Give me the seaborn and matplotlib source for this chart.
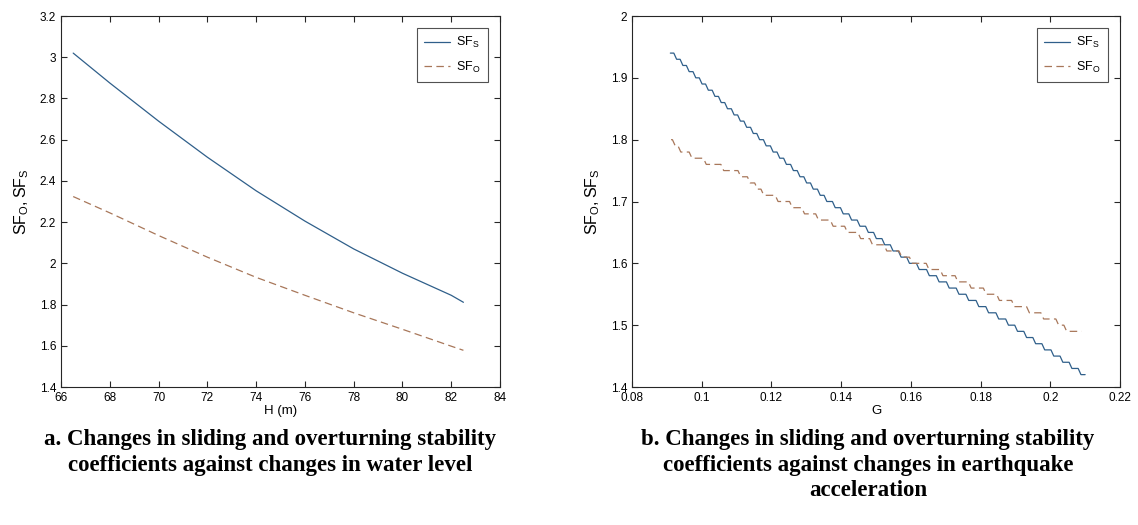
import numpy as np
import pandas as pd
import matplotlib
matplotlib.use("Agg")
import matplotlib.pyplot as plt
import seaborn as sns
from matplotlib.ticker import FuncFormatter

# ---- Data: panel a (water level) ----
h_level = [66.5, 68, 70, 72, 74, 76, 78, 80, 82, 82.5]
sf_s_h = [3.02, 2.875, 2.69, 2.515, 2.352, 2.205, 2.07, 1.952, 1.845, 1.811]
sf_o_h = [2.324, 2.245, 2.135, 2.03, 1.932, 1.845, 1.76, 1.68, 1.598, 1.578]

# ---- Data: panel b (earthquake acceleration), start of each 0.01 level ----
g_s = [0.0910, 0.0928, 0.0946, 0.0964, 0.0983, 0.1001, 0.1019, 0.1038, 0.1056, 0.1074,
       0.1093, 0.1111, 0.1129, 0.1148, 0.1166, 0.1185, 0.1205, 0.1224, 0.1243, 0.1263,
       0.1282, 0.1301, 0.1320, 0.1340, 0.1359, 0.1383, 0.1406, 0.1430, 0.1454, 0.1478,
       0.1501, 0.1525, 0.1549, 0.1572, 0.1596, 0.1624, 0.1653, 0.1681, 0.1710, 0.1738,
       0.1766, 0.1795, 0.1823, 0.1852, 0.1880, 0.1906, 0.1932, 0.1958, 0.1984, 0.2010,
       0.2036, 0.2062, 0.2088, 0.2100]
sf_s_g = [1.94, 1.93, 1.92, 1.91, 1.90, 1.89, 1.88, 1.87, 1.86, 1.85,
          1.84, 1.83, 1.82, 1.81, 1.80, 1.79, 1.78, 1.77, 1.76, 1.75,
          1.74, 1.73, 1.72, 1.71, 1.70, 1.69, 1.68, 1.67, 1.66, 1.65,
          1.64, 1.63, 1.62, 1.61, 1.60, 1.59, 1.58, 1.57, 1.56, 1.55,
          1.54, 1.53, 1.52, 1.51, 1.50, 1.49, 1.48, 1.47, 1.46, 1.45,
          1.44, 1.43, 1.42, 1.42]
g_o = [0.0912, 0.0924, 0.0940, 0.0972, 0.1013, 0.1063, 0.1112, 0.1139, 0.1160, 0.1178,
       0.1219, 0.1260, 0.1295, 0.1335, 0.1377, 0.1418, 0.1456, 0.1490, 0.1531, 0.1574,
       0.1604, 0.1652, 0.1692, 0.1735, 0.1773, 0.1816, 0.1854, 0.1897, 0.1940, 0.1981,
       0.2024, 0.2047, 0.2090]
sf_o_g = [1.80, 1.79, 1.78, 1.77, 1.76, 1.75, 1.74, 1.73, 1.72, 1.71,
          1.70, 1.69, 1.68, 1.67, 1.66, 1.65, 1.64, 1.63, 1.62, 1.61,
          1.60, 1.59, 1.58, 1.57, 1.56, 1.55, 1.54, 1.53, 1.52, 1.51,
          1.50, 1.49, 1.49]

caption_a = ["a. Changes in sliding and overturning stability",
             "coefficients against changes in water level"]
caption_b = ["b. Changes in sliding and overturning stability",
             "coefficients against changes in earthquake",
             "acceleration"]


def staircase(xs, ys, drop=0.0008):
    """Flat run for each rounded level, short sloped drop to the next one."""
    px, py = [], []
    for i in range(len(xs) - 1):
        px.append(xs[i]); py.append(ys[i])
        end = max(xs[i], xs[i + 1] - drop)
        px.append(end); py.append(ys[i])
    px.append(xs[-1]); py.append(ys[-1])
    return pd.DataFrame({'x': px, 'y': py})


sns.set_theme(style="ticks")
plt.rcParams['font.family'] = ['Liberation Sans', 'DejaVu Sans']
plt.rcParams['mathtext.fontset'] = 'custom'
plt.rcParams['mathtext.rm'] = 'Liberation Sans'
plt.rcParams['text.color'] = 'black'
plt.rcParams['axes.labelcolor'] = 'black'

C_S = '#2f5f8a'
C_O = '#a8775a'
W, H = 1138, 525

fig = plt.figure(figsize=(11.38, 5.25), dpi=100)
ax1 = fig.add_axes([61/W, 1-387/H, (500-61)/W, (387-16)/H])
ax2 = fig.add_axes([632/W, 1-387/H, (1120-632)/W, (387-16)/H])

lab_s = r'$\mathregular{SF_S}$'
lab_o = r'$\mathregular{SF_O}$'
dash = (0, (6, 3.5))

sns.lineplot(x=h_level, y=sf_s_h, ax=ax1, color=C_S, linewidth=0.9, label=lab_s)
sns.lineplot(x=h_level, y=sf_o_h, ax=ax1, color=C_O, linewidth=0.9, linestyle=dash, label=lab_o)

st_s = staircase(g_s, sf_s_g)
st_o = staircase(g_o, sf_o_g)
sns.lineplot(data=st_s, x='x', y='y', ax=ax2, color=C_S, linewidth=0.9, label=lab_s,
             sort=False, estimator=None)
sns.lineplot(data=st_o, x='x', y='y', ax=ax2, color=C_O, linewidth=0.9, linestyle=dash,
             label=lab_o, sort=False, estimator=None)

ax1.set_xlim(66, 84)
ax1.set_ylim(1.4, 3.2)
ax1.set_xticks(np.arange(66, 85, 2))
ax1.set_yticks(np.arange(1.4, 3.21, 0.2))
ax2.set_xlim(0.08, 0.22)
ax2.set_ylim(1.4, 2.0)
ax2.set_xticks(np.arange(0.08, 0.221, 0.02))
ax2.set_yticks(np.arange(1.4, 2.01, 0.1))

fmt = FuncFormatter(lambda v, p: ('%.2f' % v).rstrip('0').rstrip('.'))
for ax, xl in ((ax1, 'H (m)'), (ax2, 'G')):
    ax.xaxis.set_major_formatter(fmt)
    ax.yaxis.set_major_formatter(fmt)
    ax.tick_params(direction='in', length=4, width=0.8, labelsize=8.5, colors='#262626',
                   labelcolor='black', top=True, right=True, pad=3.5)
    for sp in ax.spines.values():
        sp.set_visible(True)
        sp.set_color('#262626')
        sp.set_linewidth(0.8)
    ax.set_xlabel(xl, fontsize=9.5, labelpad=1, color='black')
    ax.set_ylabel(r'$\mathregular{SF_O, SF_S}$', fontsize=11.5, labelpad=6, color='black')
    leg = ax.legend(loc='upper right', fontsize=9, frameon=True, fancybox=False,
                    edgecolor='#262626', handlelength=2.1, handletextpad=0.5,
                    borderpad=0.55, labelspacing=0.75, borderaxespad=1.0)
    leg.get_frame().set_linewidth(0.8)
    for t in leg.get_texts():
        t.set_color('black')
    ax.grid(False)

for lines, xc in ((caption_a, 270), (caption_b, 868)):
    for i, line in enumerate(lines):
        fig.text(xc/W, 1-(440 + 25*i)/H, line, ha='center', va='center', fontsize=16.5,
                 fontweight='bold', family='Liberation Serif', color='black')

fig.savefig('out.png', dpi=100, facecolor='white')
